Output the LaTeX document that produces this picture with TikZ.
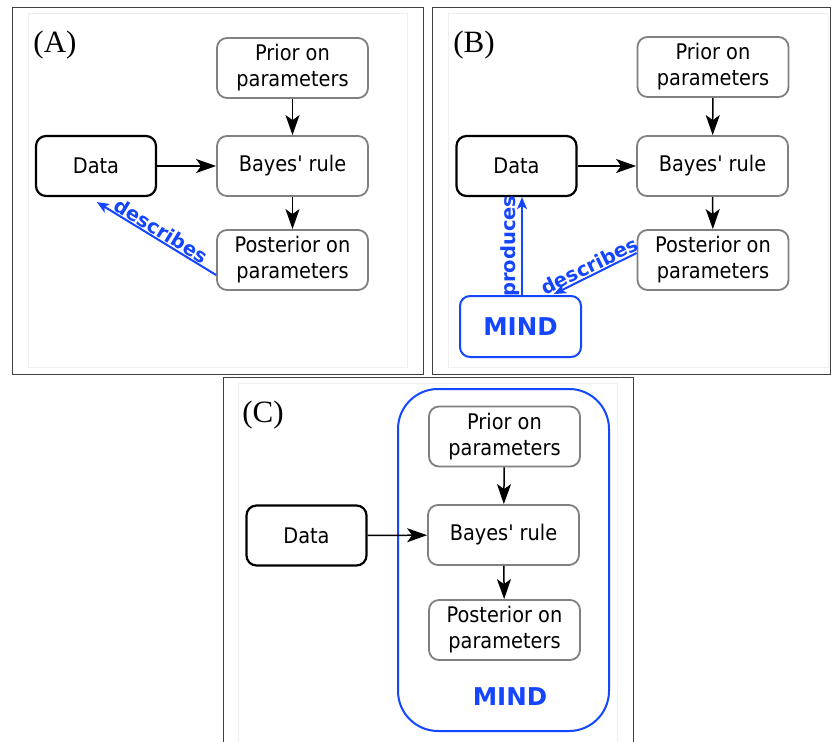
\documentclass[tikz,border=0pt]{standalone}
\usepackage{fontspec}
\setmainfont{DejaVu Sans Condensed}
\newfontfamily\labfont{Liberation Serif}
\newfontfamily\widefont{DejaVu Sans}
\usetikzlibrary{arrows.meta,calc}
\definecolor{mblue}{RGB}{20,70,255}
\definecolor{bgray}{RGB}{128,128,128}
\tikzset{
 gbox/.style={draw=bgray, line width=1.8pt, rounded corners=10pt, minimum width=151pt, minimum height=60pt, align=center, font=\fontsize{21.5pt}{26pt}\selectfont, inner sep=0pt},
 kbox/.style={gbox, draw=black, line width=2.2pt, minimum width=120pt},
 mbox/.style={gbox, draw=mblue, line width=2pt, minimum width=121pt, minimum height=61pt, text=mblue, font=\widefont\bfseries\fontsize{24.5pt}{28pt}\selectfont},
 karrow/.style={line width=1.5pt, -{Stealth[length=20pt, width=14pt, inset=5pt]}},
 barrow/.style={draw=mblue, line width=2pt, -{Stealth[length=12pt, width=10pt, inset=3pt]}},
 blab/.style={text=mblue, font=\widefont\bfseries\fontsize{19.5pt}{22pt}\selectfont, sloped, above, inner sep=1pt},
 framebox/.style={draw=black!75, line width=1pt},
 faintbox/.style={draw=black!6, line width=0.8pt},
 plab/.style={font=\labfont\fontsize{31pt}{34pt}\selectfont, inner sep=0pt}
}
\begin{document}
\begin{tikzpicture}[x=1pt,y=-1pt]
\useasboundingbox (0,0) rectangle (831,742);
\fill[white] (0,0) rectangle (831,742);
% frames
\draw[faintbox] (28,13) rectangle (407,367);
\draw[faintbox] (448,13) rectangle (828,367);
\draw[faintbox] (238,383) rectangle (617,760);
\draw[framebox] (12,7) rectangle (423,374);
\draw[framebox] (432,7) rectangle (830,374);
\draw[framebox] (223,377) rectangle (633,760);

% ---------- Panel A ----------
\node[plab] (labA) at (55,45) {(A)};
\node[gbox] (priorA) at (292.5,68) {Prior on\\parameters};
\node[gbox] (bayesA) at (292.5,166) {Bayes\textquotesingle\ rule};
\node[gbox] (postA) at (292.5,260) {Posterior on\\parameters};
\node[kbox] (dataA) at (96,166) {Data};
\draw[karrow] (priorA) -- (bayesA);
\draw[karrow] (bayesA) -- (postA);
\draw[karrow] (dataA) -- (bayesA);
\coordinate (dA) at ($(dataA.south west)+(62,5)$);
\coordinate (sA) at ($(postA.west)+(0,15)$);
\draw[barrow] (sA) -- node[blab]{describes} (dA);

% ---------- Panel B ----------
\node[plab] (labB) at (474,45) {(B)};
\node[gbox] (priorB) at (713,67) {Prior on\\parameters};
\node[gbox] (bayesB) at (712.5,166) {Bayes\textquotesingle\ rule};
\node[gbox] (postB) at (713,260) {Posterior on\\parameters};
\node[kbox] (dataB) at (516.5,166) {Data};
\node[mbox] (mindB) at (520.5,326.5) {MIND};
\draw[karrow] (priorB) -- (bayesB);
\draw[karrow] (bayesB) -- (postB);
\draw[karrow] (dataB) -- (bayesB);
\coordinate (pB) at ($(mindB.north)+(1.5,0)$);
\draw[barrow] (pB) -- node[blab]{produces} (pB |- dataB.south);
\coordinate (sB) at ($(postB.west)+(0,-7)$);
\coordinate (eB) at ($(mindB.north east)+(-28,-1)$);
\draw[barrow] (sB) -- node[blab, pos=0.52]{describes} (eB);

% ---------- Panel C ----------
\node[plab] (labC) at (263,415) {(C)};
\node[draw=mblue, line width=2pt, rounded corners=40pt, minimum width=211pt, minimum height=342pt, inner sep=0pt] (mindC) at (503.5,560) {};
\node[text=mblue, font=\widefont\bfseries\fontsize{24.5pt}{28pt}\selectfont] (mindCt) at (510,697) {MIND};
\node[gbox] (priorC) at (504.5,436.5) {Prior on\\parameters};
\node[gbox] (bayesC) at (503.5,535) {Bayes\textquotesingle\ rule};
\node[gbox] (postC) at (504.5,630) {Posterior on\\parameters};
\node[kbox] (dataC) at (306.5,535.5) {Data};
\draw[karrow] (priorC) -- (bayesC);
\draw[karrow] (bayesC) -- (postC);
\draw[karrow] (dataC) -- (bayesC);
\end{tikzpicture}
\end{document}
